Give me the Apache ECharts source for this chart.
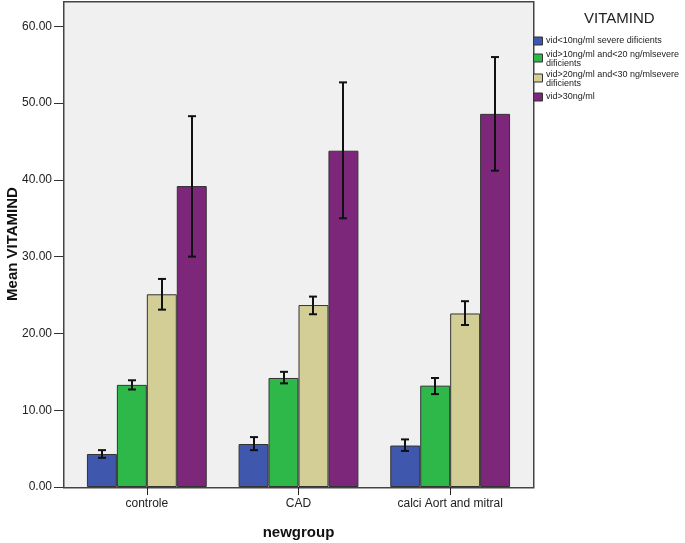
<!DOCTYPE html>
<html lang="en">

<head>
    <meta charset="UTF-8">
    <title>Mean VITAMIND by newgroup</title>
    <script src="https://cdn.jsdelivr.net/npm/echarts@6/dist/echarts.min.js"></script>
    <style>
        body { margin: 0; background: #fff; }
        #chart { width: 685px; height: 543px; }
    </style>
</head>

<body>
    <div id="chart"></div>
</body>
<script>
    var groups = ['controle', 'CAD', 'calci Aort and mitral'];
    var levels = [
        'vid<10ng/ml severe dificients',
        'vid>10ng/ml and<20 ng/mlsevere\ndificients',
        'vid>20ng/ml and<30 ng/mlsevere\ndificients',
        'vid>30ng/ml'
    ];
    var colors = ['#3f57ac', '#2eb84a', '#d3ce96', '#7c2779'];
    var yTicks = [0, 10, 20, 30, 40, 50, 60];

    // means per level (one value per group)
    var meanLow = [4.3, 5.6, 5.4];
    var meanMid1 = [13.3, 14.2, 13.2];
    var meanMid2 = [25.1, 23.7, 22.6];
    var meanHigh = [39.2, 43.8, 48.6];

    // error bar ends [low, high]
    var errLow = [[3.8, 4.8], [4.8, 6.5], [4.7, 6.2]];
    var errMid1 = [[12.7, 13.9], [13.5, 15.0], [12.1, 14.2]];
    var errMid2 = [[23.1, 27.1], [22.5, 24.8], [21.1, 24.2]];
    var errHigh = [[30.0, 48.3], [35.0, 52.7], [41.2, 56.0]];

    var means = [meanLow, meanMid1, meanMid2, meanHigh];
    var errs = [errLow, errMid1, errMid2, errHigh];

    var gapPct = 0.21;

    var errData = [];
    errs.forEach(function (e, s) {
        e.forEach(function (pair, g) {
            errData.push([g, s, pair[0], pair[1]]);
        });
    });

    var series = means.map(function (m, i) {
        return {
            name: levels[i],
            type: 'bar',
            data: m,
            barGap: 0,
            barCategoryGap: (gapPct * 100) + '%',
            itemStyle: { color: colors[i], borderColor: '#333', borderWidth: 1 },
            silent: true
        };
    });

    series.push({
        type: 'custom',
        data: errData,
        silent: true,
        z: 5,
        renderItem: function (params, api) {
            var g = api.value(0), s = api.value(1);
            var lo = api.coord([g, api.value(2)]);
            var hi = api.coord([g, api.value(3)]);
            var catW = api.size([1, 0])[0];
            var bw = catW * (1 - gapPct) / levels.length;
            var x = Math.round(lo[0] + (s - (levels.length - 1) / 2) * bw);
            var cap = 4;
            var st = { stroke: '#111', lineWidth: 2 };
            return {
                type: 'group',
                children: [
                    { type: 'line', shape: { x1: x, y1: lo[1], x2: x, y2: hi[1] }, style: st },
                    { type: 'line', shape: { x1: x - cap, y1: lo[1], x2: x + cap, y2: lo[1] }, style: st },
                    { type: 'line', shape: { x1: x - cap, y1: hi[1], x2: x + cap, y2: hi[1] }, style: st }
                ]
            };
        }
    });

    // legend drawn by hand: swatch centred on its (one or two line) text
    var legendItems = [];
    var lh = 9.5;
    var cy = 40.5;
    var steps = [17, 20, 19, 0];
    levels.forEach(function (name, i) {
        var lines = name.split('\n').length;
        legendItems.push({
            type: 'rect', left: 533, top: cy - 4,
            shape: { width: 9, height: 8 },
            style: { fill: colors[i], stroke: '#333', lineWidth: 1 }
        });
        legendItems.push({
            type: 'text', left: 546, top: cy - lines * lh / 2 + (lines > 1 ? 1.5 : 0),
            style: { text: name, fontSize: 9, lineHeight: lh, fill: '#222', fontFamily: 'Liberation Sans, Arial' }
        });
        cy += steps[i];
    });

    var chart = echarts.init(document.getElementById('chart'));
    chart.setOption({
        animation: false,
        backgroundColor: '#fff',
        grid: { left: 71, right: 159, top: 1, bottom: 56, containLabel: false, outerBoundsMode: 'none' },
        graphic: [
            {
                type: 'rect', left: 63, top: 1, z: -10,
                shape: { width: 470, height: 486 },
                style: { fill: '#f0f0f0', stroke: '#444', lineWidth: 1.5 }
            },
            {
                type: 'text', left: 584, top: 11,
                style: { text: 'VITAMIND', fontSize: 15, fill: '#222', fontFamily: 'Liberation Sans, Arial' }
            }
        ].concat(legendItems),
        xAxis: {
            type: 'category',
            data: groups,
            name: 'newgroup',
            nameLocation: 'middle',
            nameGap: 38,
            nameTextStyle: { fontSize: 15, fontWeight: 'bold', color: '#111', fontFamily: 'Liberation Sans, Arial' },
            axisLine: { show: false },
            axisTick: { show: true, alignWithLabel: true, length: 8, lineStyle: { color: '#222' } },
            axisLabel: { fontSize: 12, color: '#222', margin: 11, fontFamily: 'Liberation Sans, Arial' }
        },
        yAxis: {
            type: 'value',
            min: 0,
            max: 63.3,
            interval: 10,
            offset: 8,
            name: 'Mean VITAMIND',
            nameLocation: 'middle',
            nameGap: 43,
            nameMoveOverlap: false,
            nameTextStyle: { fontSize: 15, fontWeight: 'bold', color: '#111', fontFamily: 'Liberation Sans, Arial' },
            axisLine: { show: false },
            axisTick: { show: true, length: 9, lineStyle: { color: '#333' } },
            splitLine: { show: false },
            axisLabel: {
                fontSize: 12, color: '#222', margin: 11, showMaxLabel: false,
                fontFamily: 'Liberation Sans, Arial',
                formatter: function (v) { return yTicks.indexOf(v) >= 0 ? v.toFixed(2) : ''; }
            }
        },
        series: series
    });
</script>

</html>
